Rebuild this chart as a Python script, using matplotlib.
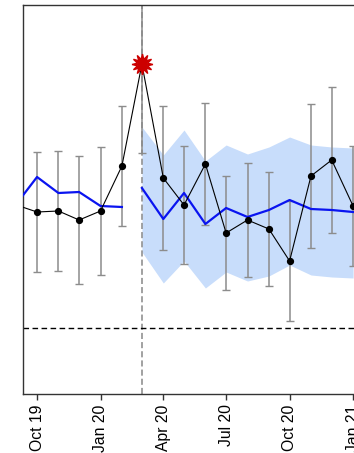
import numpy as np
import pandas as pd
import matplotlib
matplotlib.use("Agg")
import matplotlib.pyplot as plt
import matplotlib.dates as mdates

plt.rcParams["font.family"] = ["Liberation Sans", "DejaVu Sans"]

# monthly observations with their uncertainty
months = pd.date_range("2019-09-01", "2021-01-01", freq="MS")
observed = [12.3, 11.6, 11.7, 10.8, 11.7, 16.2, 26.4, 15.0, 12.3, 16.4,
            9.5, 10.8, 9.9, 6.7, 15.2, 16.8, 12.2]
obs_err = [6.0, 6.0, 6.0, 6.4, 6.4, 6.0, 8.9, 7.2, 5.9, 6.1,
           5.7, 5.7, 5.7, 6.0, 7.2, 7.3, 6.0]

# model fit before the event, forecast after it
fit_months = pd.date_range("2019-09-01", "2020-02-01", freq="MS")
fit_values = [12.4, 15.1, 13.5, 13.6, 12.2, 12.1]
fc_months = pd.date_range("2020-03-01", "2021-01-01", freq="MS")
fc_values = [14.0, 10.9, 13.5, 10.4, 12.0, 11.1, 11.8, 12.8, 11.9, 11.8, 11.6]
fc_upper = [20.1, 17.3, 19.8, 16.7, 18.3, 17.4, 18.1, 19.1, 18.3, 18.1, 18.0]
fc_lower = [7.6, 4.5, 6.7, 4.0, 5.6, 4.7, 5.2, 6.3, 5.3, 5.1, 5.0]

event_date = pd.Timestamp("2020-03-01")
peak_value = 26.4
baseline = 0.0

fig = plt.figure(figsize=(3.54, 4.53), dpi=100)
ax = fig.add_axes([23 / 354, 59 / 453, 357 / 354, 389 / 453])

ax.fill_between(fc_months, fc_lower, fc_upper, color="#c8ddfb", lw=0, zorder=1)
ax.plot(fit_months, fit_values, color="#0a14f0", lw=1.6, zorder=3)
ax.plot(fc_months, fc_values, color="#0a14f0", lw=1.6, zorder=3)

ax.errorbar(months, observed, yerr=obs_err, fmt="none", ecolor="#8c8c8c",
            elinewidth=1.1, capsize=2.6, capthick=1.0, zorder=2)
ax.plot(months, observed, color="black", lw=0.8, marker="o", ms=4.2, zorder=4)
ax.plot([event_date], [peak_value], marker=(12, 1, 0), ms=15, color="#cc0000",
        mec="#cc0000", zorder=5, ls="none")

ax.axvline(event_date, color="#888888", lw=1.1, ls=(0, (4, 2)), zorder=2)
ax.axhline(baseline, color="black", lw=1.0, ls=(0, (4, 2.5)), zorder=2)

ax.set_xlim(pd.Timestamp("2019-09-10 16:00"), pd.Timestamp("2021-02-09"))
ax.set_ylim(-6.6, 32.3)
ax.xaxis.set_major_locator(mdates.MonthLocator(bymonth=[1, 4, 7, 10]))
ax.xaxis.set_major_formatter(mdates.DateFormatter("%b %y"))
ax.tick_params(axis="x", labelrotation=90, length=4.5, width=1.0,
               color="#333333", labelsize=11.3, pad=3)
ax.set_yticks([])
for side in ax.spines.values():
    side.set_color("#333333")
    side.set_linewidth(1.0)

fig.savefig("out.png", dpi=100)
